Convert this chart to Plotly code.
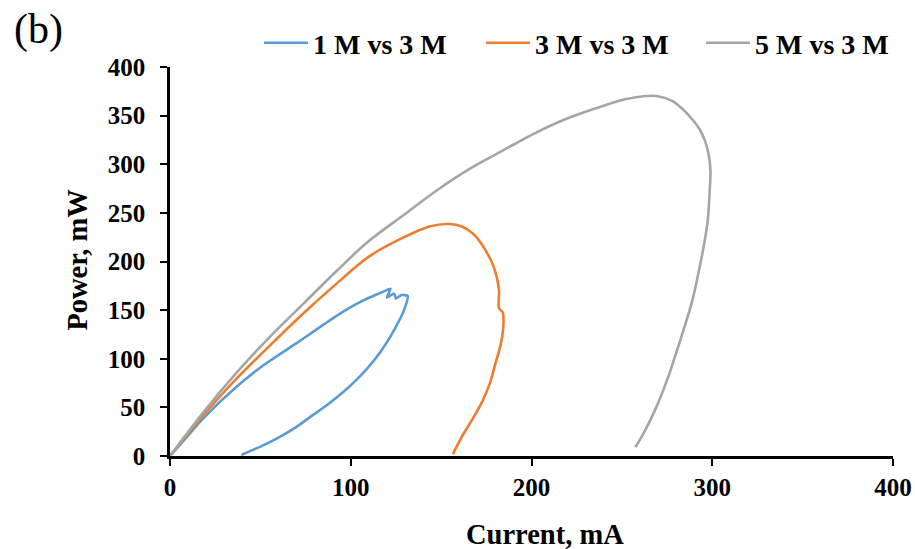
import plotly.graph_objects as go

# Power vs current curves for three electrolyte concentration pairs
current_1m = [0, 9, 18, 36, 51.5, 70, 88, 99, 107, 113, 118, 122, 120, 124, 125, 128, 131.5,
              129.5, 127, 122, 116, 110, 103, 96, 88, 79, 70, 61, 51.5, 45.5, 39.5]
power_1m = [0, 19, 38, 70, 93, 116, 139, 152, 160, 165, 169, 172, 163, 167, 162, 165.5, 164.5,
            150, 140, 123, 106, 92, 78, 66, 54, 42, 30, 20, 11, 6, 1]

current_3m = [0, 18, 36.5, 55.5, 74, 92, 110, 129.5, 143.5, 154.5, 161.5, 168, 172, 179,
              182, 182, 184, 184.5, 183, 180, 177, 173, 168, 161.5, 156.5]
power_3m = [0, 41, 79, 114, 147, 177, 205, 225, 236, 238.5, 236, 228, 219, 195, 171, 152,
            148, 136, 115, 95, 75, 57, 40, 20, 2]

current_5m = [0, 18, 36.5, 55.5, 74, 92, 110, 129.5, 147.5, 165.5, 184, 202, 221, 239.5,
              252.5, 262, 270, 278, 284, 289, 293, 296, 298, 299, 298.5, 297.5, 295.5, 293,
              289, 284, 279, 275, 269, 262.5, 257.5]
power_5m = [0, 44, 85, 123, 157, 190, 221, 248, 273, 295, 314, 332, 348, 360, 367, 370,
            370, 365, 356, 346, 336, 324, 310, 294, 270, 242, 218, 194, 160, 129,
            100, 78, 50, 25, 9]

series_names = ["1 M vs 3 M", "3 M vs 3 M", "5 M vs 3 M"]
series_colors = ["#5B9BD5", "#ED7D31", "#A5A5A5"]
series_smoothing = [0.6, 0.9, 1.0]
legend_ids = ["legend", "legend2", "legend3"]
legend_left_px = [259, 481, 701]

x_ticks = [0, 100, 200, 300, 400]
y_ticks = [0, 50, 100, 150, 200, 250, 300, 350, 400]

W, H = 915, 549
FONT = "Liberation Serif"

fig = go.Figure()
for name, xs, ys, color, smooth, lg in zip(series_names,
                                           [current_1m, current_3m, current_5m],
                                           [power_1m, power_3m, power_5m],
                                           series_colors, series_smoothing, legend_ids):
    fig.add_trace(go.Scatter(x=xs, y=ys, mode="lines", name=name, legend=lg,
                             line=dict(color=color, width=2.6, shape="spline", smoothing=smooth)))

axis_common = dict(
    showgrid=False, zeroline=False, showline=True, linecolor="black", linewidth=2.5,
    ticks="outside", ticklen=7, tickwidth=2, tickcolor="black",
    ticklabeloverflow="allow",
    tickfont=dict(family=FONT, size=25, color="black", weight="bold"),
)

legend_style = dict(orientation="h", xanchor="left", yanchor="middle",
                    xref="container", yref="container",
                    font=dict(family=FONT, size=28, color="black", weight="bold"),
                    itemwidth=44, bgcolor="rgba(0,0,0,0)", borderwidth=0)

layout_legends = {}
for lg, px in zip(legend_ids, legend_left_px):
    layout_legends[lg] = dict(x=px / W, y=1 - 43 / H, **legend_style)

fig.update_layout(
    width=W, height=H,
    margin=dict(l=170, r=22, t=67, b=93, autoexpand=False),
    paper_bgcolor="white", plot_bgcolor="white",
    font=dict(family=FONT, color="black"),
    xaxis=dict(range=[0, 400], tickvals=x_ticks, ticklabelstandoff=0, **axis_common),
    yaxis=dict(range=[0, 400], tickvals=y_ticks, ticklabelstandoff=10, **axis_common),
    showlegend=True,
    **layout_legends,
)

# Axis titles
fig.add_annotation(text="<b>Current, mA</b>", xref="paper", yref="paper",
                   x=0.518, y=-0.203, xanchor="center", yanchor="middle", showarrow=False,
                   font=dict(family=FONT, size=28.5, color="black"))
fig.add_annotation(text="<b>Power, mW</b>", xref="paper", yref="paper",
                   x=-0.128, y=0.506, xanchor="center", yanchor="middle", showarrow=False,
                   textangle=-90, font=dict(family=FONT, size=28.5, color="black"))

# Panel label
fig.add_annotation(text="(b)", xref="paper", yref="paper", x=-0.219, y=1.162,
                   xanchor="left", yanchor="top", showarrow=False,
                   font=dict(family=FONT, size=42, color="black"))

fig.write_html("out.html")
